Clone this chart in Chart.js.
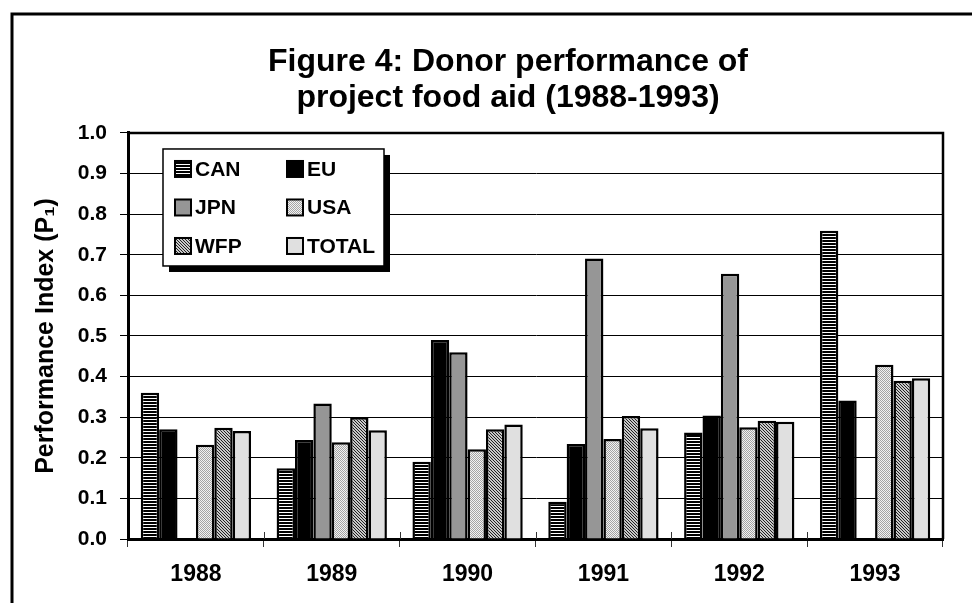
<!DOCTYPE html>
<html>
<head>
<meta charset="utf-8">
<script src="https://cdn.jsdelivr.net/npm/chart.js@4/dist/chart.umd.min.js"></script>
<style>
html,body{margin:0;padding:0;background:#fff;}
canvas{display:block;}
</style>
</head>
<body>
<canvas id="c" width="972" height="603"></canvas>
<script>
// ---- data ----
const years = ['1988', '1989', '1990', '1991', '1992', '1993'];
const seriesNames = ['CAN', 'EU', 'JPN', 'USA', 'WFP', 'TOTAL'];
const CAN   = [0.360, 0.174, 0.190, 0.092, 0.262, 0.759];
const EU    = [0.270, 0.244, 0.490, 0.234, 0.304, 0.341];
const JPN   = [null,  0.334, 0.460, 0.691, 0.653, null ];
const USA   = [0.232, 0.238, 0.221, 0.246, 0.275, 0.429];
const WFP   = [0.274, 0.300, 0.270, 0.303, 0.291, 0.390];
const TOTAL = [0.266, 0.268, 0.282, 0.273, 0.289, 0.396];
const yTickLabels = ['0.0','0.1','0.2','0.3','0.4','0.5','0.6','0.7','0.8','0.9','1.0'];
const titleLines = ['Figure 4: Donor performance of', 'project food aid (1988-1993)'];
const yTitle = 'Performance Index (P\u2081)';

const FONT = "'Liberation Sans', Arial, Helvetica, sans-serif";
const canvas = document.getElementById('c');
const ctx0 = canvas.getContext('2d');

function pattern(w, h, paint) {
  const c = document.createElement('canvas');
  c.width = w; c.height = h;
  const g = c.getContext('2d');
  paint(g);
  return ctx0.createPattern(c, 'repeat');
}
const fills = {
  CAN: pattern(1, 3, g => { g.fillStyle = '#fff'; g.fillRect(0,0,1,3); g.fillStyle = '#000'; g.fillRect(0,0,1,2); }),
  EU: '#000000',
  JPN: '#969696',
  USA: pattern(2, 2, g => { g.fillStyle = '#f2f2f2'; g.fillRect(0,0,2,2); g.fillStyle = '#a4a4a4'; g.fillRect(0,0,1,1); g.fillRect(1,1,1,1); }),
  WFP: pattern(3, 3, g => { g.fillStyle = '#c8c8c8'; g.fillRect(0,0,3,3); g.fillStyle = '#202020'; for (let i = 0; i < 3; i++) g.fillRect(i,i,1,1); }),
  TOTAL: '#e0e0e0'
};
const values = { CAN, EU, JPN, USA, WFP, TOTAL };

const datasets = seriesNames.map(n => ({
  label: n,
  data: values[n],
  backgroundColor: fills[n],
  borderColor: '#000',
  borderWidth: 2.5,
  categoryPercentage: 0.812,
  barPercentage: 1.0
}));

const decor = {
  id: 'decor',
  afterLayout(chart) {
    const t = chart.titleBlock;
    if (t) { t.left = 44; t.right = 972; }
  },
  beforeDraw(chart) {
    const c = chart.ctx;
    c.save();
    c.fillStyle = '#fff';
    c.fillRect(0, 0, chart.width, chart.height);
    c.restore();
  },
  afterDraw(chart) {
    const c = chart.ctx;
    const a = chart.chartArea;
    c.save();
    // plot area border (top & right)
    c.strokeStyle = '#000';
    c.lineWidth = 2.5;
    c.beginPath();
    c.moveTo(a.left, a.top);
    c.lineTo(a.right, a.top);
    c.lineTo(a.right, a.bottom);
    c.stroke();
    // inner parts of x tick marks
    const n = years.length;
    c.lineWidth = 1;
    c.strokeStyle = '#333';
    for (let i = 1; i < n; i++) {
      const x = Math.round(a.left + i * (a.right - a.left) / n) + 0.5;
      c.beginPath();
      c.moveTo(x, a.bottom - 7);
      c.lineTo(x, a.bottom);
      c.stroke();
    }
    // legend
    const lx = a.left + 35, ly = a.top + 16, lw = 221, lh = 117, sh = 6;
    c.fillStyle = '#000';
    c.fillRect(lx + sh, ly + sh, lw, lh);
    c.fillStyle = '#fff';
    c.fillRect(lx, ly, lw, lh);
    c.strokeStyle = '#000';
    c.lineWidth = 1.5;
    c.strokeRect(lx, ly, lw, lh);
    c.font = 'bold 21px ' + FONT;
    c.textBaseline = 'middle';
    c.textAlign = 'left';
    chart.data.datasets.forEach((ds, i) => {
      const col = i % 2, row = Math.floor(i / 2);
      const sx = lx + 12 + col * 112;
      const cy = ly + 20 + row * 38.5;
      c.fillStyle = ds.backgroundColor;
      c.fillRect(sx, cy - 8, 16, 16);
      c.strokeStyle = '#000';
      c.lineWidth = 2;
      c.strokeRect(sx, cy - 8, 16, 16);
      c.fillStyle = '#000';
      c.fillText(ds.label, sx + 20, cy + 1);
    });
    // outer frame
    c.strokeStyle = '#000';
    c.lineWidth = 3;
    c.beginPath();
    c.moveTo(12, chart.height + 10);
    c.lineTo(12, 14);
    c.lineTo(chart.width + 10, 14);
    c.stroke();
    c.restore();
  }
};

new Chart(canvas, {
  type: 'bar',
  data: { labels: years, datasets },
  options: {
    responsive: false,
    animation: false,
    devicePixelRatio: 1,
    layout: { padding: { left: 22, right: 29, top: 0, bottom: 0 } },
    plugins: {
      legend: { display: false },
      tooltip: { enabled: false },
      title: {
        display: true,
        text: titleLines,
        color: '#000',
        font: { size: 32, weight: 'bold', family: FONT, lineHeight: 1.12 },
        padding: { top: 44, bottom: 17.3 }
      }
    },
    scales: {
      x: {
        grid: { display: true, drawOnChartArea: false, drawTicks: true, tickLength: 8, color: '#333', lineWidth: 1, offset: true },
        border: { display: true, color: '#000', width: 3 },
        ticks: { color: '#000', font: { size: 23, weight: 'bold', family: FONT }, padding: 14, maxRotation: 0 },
        afterFit(s) { s.height = 64; }
      },
      y: {
        min: 0,
        max: 1,
        ticks: {
          stepSize: 0.1,
          color: '#000',
          font: { size: 21, weight: 'bold', family: FONT },
          padding: 13,
          callback: (v, i) => yTickLabels[i]
        },
        grid: { color: '#000', lineWidth: 1, tickLength: 8 },
        border: { display: true, color: '#000', width: 3 },
        title: {
          display: true,
          text: yTitle,
          color: '#000',
          font: { size: 25, weight: 'bold', family: FONT },
          padding: { top: 9, bottom: 0 }
        },
        afterFit(s) { s.width = 106; }
      }
    }
  },
  plugins: [decor]
});
</script>
</body>
</html>
